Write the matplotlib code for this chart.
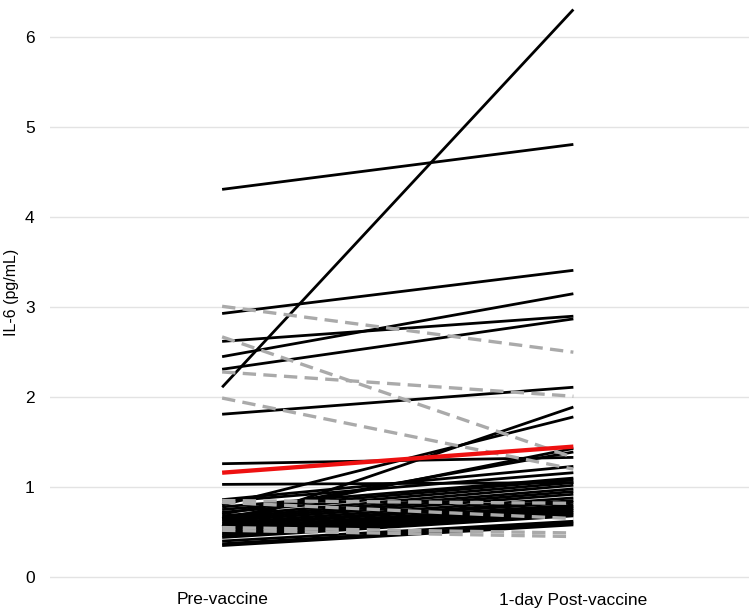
"""Paired IL-6 levels before and one day after vaccination."""

import matplotlib

matplotlib.use("Agg")
import matplotlib.pyplot as plt

plt.rcParams["font.family"] = ["Liberation Sans", "DejaVu Sans"]

timepoints = ["Pre-vaccine", "1-day Post-vaccine"]

# Subjects whose IL-6 rose (solid black).
pre_up = [
    2.11, 4.31, 2.93, 2.45, 2.62, 2.31, 1.81, 1.26, 1.03, 0.56, 0.80,
    0.65, 0.70, 0.86, 0.84, 0.78, 0.75, 0.72, 0.68, 0.66, 0.64, 0.62,
    0.60, 0.58, 0.57, 0.55, 0.53, 0.52, 0.50, 0.48, 0.46, 0.44, 0.40,
    0.37, 0.35,
]
post_up = [
    6.31, 4.81, 3.41, 3.15, 2.90, 2.87, 2.11, 1.33, 1.05, 1.89, 1.78,
    1.43, 1.39, 1.23, 1.16, 1.10, 1.08, 1.05, 1.02, 0.98, 0.95, 0.92,
    0.88, 0.85, 0.83, 0.80, 0.78, 0.76, 0.74, 0.72, 0.70, 0.68, 0.62,
    0.60, 0.58,
]

# Subjects whose IL-6 fell (grey dashed).
pre_down = [3.01, 2.67, 2.28, 1.99, 0.85, 0.83, 0.55, 0.52]
post_down = [2.50, 1.33, 2.01, 1.20, 0.82, 0.65, 0.49, 0.45]

# Group mean (red).
pre_mean = 1.16
post_mean = 1.45

fig = plt.figure(figsize=(7.54, 6.16), dpi=100)
ax = fig.add_axes([50 / 754, 36 / 616, 699 / 754, 575 / 616])

x = [0, 1]
for a, b in zip(pre_up, post_up):
    ax.plot(x, [a, b], color="black", lw=2.0, solid_capstyle="butt", zorder=3)
for a, b in zip(pre_down, post_down):
    ax.plot(x, [a, b], color="#aaaaaa", lw=2.4, dashes=(4, 2.2), zorder=4)
ax.plot(x, [pre_mean, post_mean], color="#ee1111", lw=3.1,
        solid_capstyle="butt", zorder=5)

ax.set_xlim(-0.49, 1.50)
ax.set_ylim(-0.033, 6.36)
ax.set_yticks(range(0, 7))
ax.set_xticks(x)
ax.set_xticklabels(timepoints)
ax.grid(axis="y", color="#e3e3e3", lw=1.0, zorder=0)
ax.set_axisbelow(True)
for spine in ax.spines.values():
    spine.set_visible(False)
ax.tick_params(axis="both", length=0, labelsize=12.5)
ax.tick_params(axis="y", pad=11)
ax.tick_params(axis="x", pad=9)
ax.set_ylabel("IL-6 (pg/mL)", fontsize=11.5, labelpad=4)

fig.savefig("out.png", dpi=100)
